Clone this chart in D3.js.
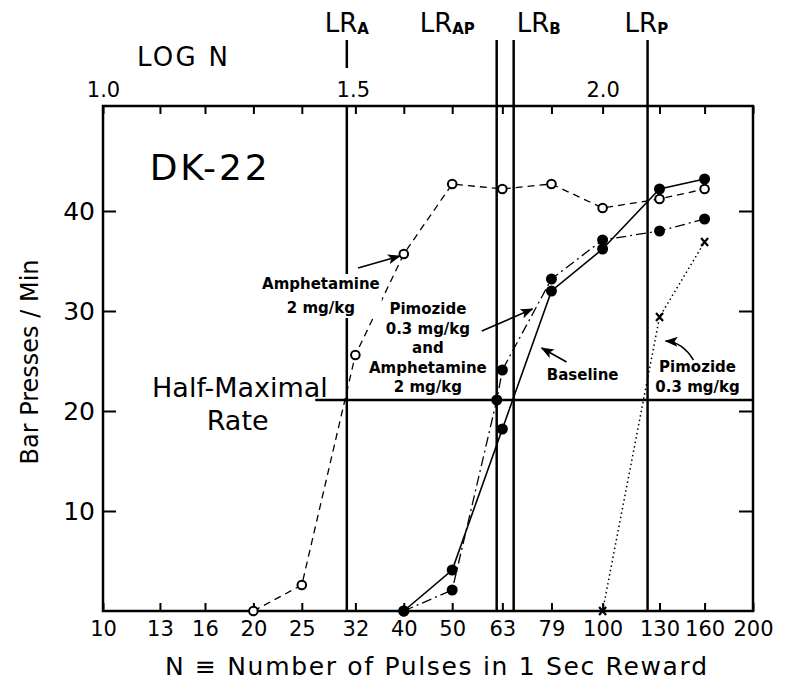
<!DOCTYPE html>
<html>
<head>
<meta charset="utf-8">
<script src="https://cdn.jsdelivr.net/npm/d3@7"></script>
<style>
  body { margin: 0; background: #fff; }
  text { font-family: "DejaVu Sans", sans-serif; fill: #000; }
</style>
</head>
<body>
<svg width="788" height="683"></svg>
<script>
// Tick labels
var pulseTicks = [10, 13, 16, 20, 25, 32, 40, 50, 63, 79, 100, 130, 160, 200];
var logTicks = [1.0, 1.5, 2.0];
var rateTicks = [10, 20, 30, 40];

// Series: N (pulses) and bar presses / min
var amphN = [20, 25, 32, 40, 50, 63, 79, 100, 130, 160];
var amphRate = [0, 2.6, 25.6, 35.7, 42.7, 42.2, 42.7, 40.3, 41.2, 42.2];
var baseN = [40, 50, 63, 79, 100, 130, 160];
var baseRate = [0, 4.1, 18.2, 32.0, 36.2, 42.2, 43.2];
var apN = [40, 50, 61.4, 63, 79, 100, 130, 160];
var apRate = [0, 2.1, 21.1, 24.1, 33.2, 37.1, 38.0, 39.2];
var pimoN = [100, 130, 160];
var pimoRate = [0, 29.4, 36.9];

// Locus of rise (log N) and half-maximal rate
var lrNames = ['A', 'AP', 'B', 'P'];
var lrLog = [1.488, 1.788, 1.822, 2.09];
var halfMax = 21.1;
var halfMaxFromN = 26.6;

var svg = d3.select('svg');
var pLeft = 103, pRight = 753, pTop = 106, pBottom = 611;

var x = d3.scaleLog().domain([10, 200]).range([pLeft, pRight]);
var xLog = d3.scaleLinear().domain([1, Math.log10(200)]).range([pLeft, pRight]);
var y = d3.scaleLinear().domain([0, 50.5]).range([pBottom, pTop]);

function zip(ns, vs) {
  return ns.map(function(n, i) { return {n: n, v: vs[i]}; });
}

// arrow head
svg.append('defs').append('marker')
  .attr('id', 'arr')
  .attr('markerUnits', 'userSpaceOnUse')
  .attr('markerWidth', 13).attr('markerHeight', 10)
  .attr('refX', 12).attr('refY', 5)
  .attr('orient', 'auto')
  .append('path').attr('d', 'M0,0 L13,5 L0,10 L3,5 Z').attr('fill', '#000');

// frame
svg.append('rect')
  .attr('x', pLeft).attr('y', pTop)
  .attr('width', pRight - pLeft).attr('height', pBottom - pTop)
  .attr('fill', 'none').attr('stroke', '#000').attr('stroke-width', 2.5);

// bottom axis
var gx = svg.append('g').attr('transform', 'translate(0,' + pBottom + ')')
  .call(d3.axisBottom(x).tickValues(pulseTicks).tickSize(-8).tickPadding(10).tickFormat(d3.format('d')));
// top axis ticks
var gt = svg.append('g').attr('transform', 'translate(0,' + pTop + ')')
  .call(d3.axisTop(x).tickValues(pulseTicks).tickSize(-8).tickFormat(''));
// top LOG N labels
var gl = svg.append('g').attr('transform', 'translate(0,' + pTop + ')')
  .call(d3.axisTop(xLog).tickValues(logTicks).tickSize(0).tickPadding(9).tickFormat(d3.format('.1f')));
// left axis
var gy = svg.append('g').attr('transform', 'translate(' + pLeft + ',0)')
  .call(d3.axisLeft(y).tickValues(rateTicks).tickSize(-13).tickPadding(8));
// right axis ticks
var gr = svg.append('g').attr('transform', 'translate(' + pRight + ',0)')
  .call(d3.axisRight(y).tickValues(rateTicks).tickSize(-14).tickFormat(''));

[gx, gt, gl, gy, gr].forEach(function(g) {
  g.select('.domain').remove();
  g.selectAll('line').attr('stroke', '#000').attr('stroke-width', 2);
  g.selectAll('text').attr('fill', '#000').style('font-family', '"DejaVu Sans", sans-serif');
});
gx.selectAll('text').style('font-size', '21px');
gl.selectAll('text').style('font-size', '21px');
gy.selectAll('text').style('font-size', '25px');

svg.append('text').attr('x', 137).attr('y', 66)
  .attr('textLength', 91).attr('lengthAdjust', 'spacing')
  .style('font-size', '26px').text('LOG N');

// LR vertical lines
var lrLabelDx = [-22, -77, 3, -23];
lrLog.forEach(function(v, i) {
  var xp = xLog(v);
  var segs = i === 0 ? [[40, 68], [pTop, pBottom]] : [[40, pBottom]];
  segs.forEach(function(s) {
    svg.append('line').attr('x1', xp).attr('x2', xp).attr('y1', s[0]).attr('y2', s[1])
      .attr('stroke', '#000').attr('stroke-width', 2.5);
  });
  var t = svg.append('text').attr('x', xp + lrLabelDx[i]).attr('y', 32).style('font-size', '26px');
  t.append('tspan').text('LR');
  t.append('tspan').attr('dy', 2).style('font-size', '15px').style('font-weight', 'bold').text(lrNames[i]);
});

// half-maximal line
svg.append('line')
  .attr('x1', x(halfMaxFromN)).attr('x2', pRight)
  .attr('y1', y(halfMax)).attr('y2', y(halfMax))
  .attr('stroke', '#000').attr('stroke-width', 2.5);

// labels with optional white background
function label(lines, n, v, lh, size, bold, bg) {
  var g = svg.append('g');
  var t = g.append('text')
    .attr('text-anchor', 'middle')
    .style('font-size', size + 'px')
    .style('font-weight', bold ? 'bold' : 'normal');
  lines.forEach(function(s, i) {
    t.append('tspan').attr('x', x(n)).attr('y', y(v) + i * lh).text(s);
  });
  if (bg) {
    var b = t.node().getBBox();
    g.insert('rect', 'text').attr('x', b.x - 2).attr('y', b.y - 1)
      .attr('width', b.width + 4).attr('height', b.height + 2).attr('fill', '#fff');
  }
  return g;
}

// series lines
var line = d3.line().x(function(d) { return x(d.n); }).y(function(d) { return y(d.v); });
var series = [
  {data: zip(amphN, amphRate), dash: '7,5', w: 1.3},
  {data: zip(baseN, baseRate), dash: null, w: 1.6},
  {data: zip(apN, apRate), dash: '10,4,2,4', w: 1.3},
  {data: zip(pimoN, pimoRate), dash: '1.5,3', w: 1.5}
];
series.forEach(function(s) {
  svg.append('path').datum(s.data).attr('d', line)
    .attr('fill', 'none').attr('stroke', '#000')
    .attr('stroke-width', s.w).attr('stroke-dasharray', s.dash);
});

// annotation labels
label(['Amphetamine', '2 mg/kg'], 27.3, 32.2, 24, 15, true, true);
label(['Pimozide', '0.3 mg/kg', 'and', 'Amphetamine', '2 mg/kg'], 44.7, 29.7, 19.5, 15, true, false);
label(['Baseline'], 91.2, 23.1, 20, 15, true, false);
label(['Pimozide', '0.3 mg/kg'], 154.9, 23.9, 20, 15, true, false);
label(['Half-Maximal'], 18.8, 21.4, 0, 27, false, false);
label(['Rate'], 18.6, 18.1, 0, 27, false, false);

svg.append('text').attr('x', x(12.4)).attr('y', y(43.1))
  .attr('textLength', 118).attr('lengthAdjust', 'spacing')
  .style('font-size', '36px').text('DK-22');

// arrows (data units)
var arrows = [
  [{n: 32.4, v: 34.3}, {n: 39.3, v: 35.5}],
  [{n: 57.3, v: 28.0}, {n: 72.4, v: 30.2}],
  [{n: 84.7, v: 24.9}, {n: 75.5, v: 26.3}],
  [{n: 152, v: 25.1}, {n: 144.5, v: 26.9}, {n: 133.7, v: 27.0}]
];
arrows.forEach(function(a) {
  var p = a.length === 2
    ? 'M' + x(a[0].n) + ',' + y(a[0].v) + 'L' + x(a[1].n) + ',' + y(a[1].v)
    : 'M' + x(a[0].n) + ',' + y(a[0].v) + 'Q' + x(a[1].n) + ',' + y(a[1].v) + ' ' + x(a[2].n) + ',' + y(a[2].v);
  svg.append('path').attr('d', p).attr('fill', 'none')
    .attr('stroke', '#000').attr('stroke-width', 1.6).attr('marker-end', 'url(#arr)');
});

// points
svg.selectAll('.open').data(zip(amphN, amphRate)).enter().append('circle')
  .attr('cx', function(d) { return x(d.n); }).attr('cy', function(d) { return y(d.v); })
  .attr('r', 4.3).attr('fill', '#fff').attr('stroke', '#000').attr('stroke-width', 2);
svg.selectAll('.filled').data(zip(baseN, baseRate).concat(zip(apN, apRate))).enter().append('circle')
  .attr('cx', function(d) { return x(d.n); }).attr('cy', function(d) { return y(d.v); })
  .attr('r', 5.5).attr('fill', '#000');
svg.selectAll('.cross').data(zip(pimoN, pimoRate)).enter().append('path')
  .attr('transform', function(d) { return 'translate(' + x(d.n) + ',' + y(d.v) + ')'; })
  .attr('d', 'M-3.5,-4L3.5,4M3.5,-4L-3.5,4')
  .attr('stroke', '#000').attr('stroke-width', 2.2);

// axis titles
svg.append('text').attr('x', 436).attr('y', 675).attr('text-anchor', 'middle')
  .attr('textLength', 542).attr('lengthAdjust', 'spacing')
  .style('font-size', '25px').text('N \u2261 Number of Pulses in 1 Sec Reward');
svg.append('text').attr('transform', 'translate(38,362) rotate(-90)')
  .attr('text-anchor', 'middle').style('font-size', '24px').text('Bar Presses / Min');
</script>
</body>
</html>
